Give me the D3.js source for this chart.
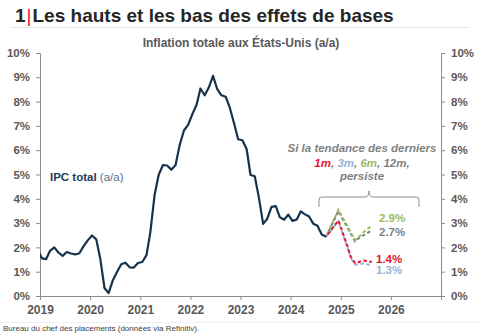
<!DOCTYPE html>
<html><head><meta charset="utf-8">
<script src="https://cdn.jsdelivr.net/npm/d3@7"></script>
<style>body{margin:0;background:#fff}svg{display:block;font-family:"Liberation Sans",Arial,sans-serif}</style>
</head><body><svg id="c" width="480" height="336"></svg>
<script>
// ---- data ----
const cpiStart = [2018, 11]; // Dec 2018 (month index 0-based)
const cpiValues = [1.91,
 1.55,1.52,1.86,2.00,1.79,1.65,1.81,1.75,1.71,1.76,2.05,2.29,
 2.49,2.33,1.54,0.33,0.12,0.65,0.99,1.31,1.37,1.18,1.17,1.36,
 1.40,1.68,2.62,4.16,4.99,5.39,5.37,5.20,5.39,6.22,6.81,7.04,
 7.48,7.87,8.54,8.26,8.58,9.06,8.52,8.26,8.20,7.75,7.11,6.45,
 6.41,6.04,4.98,4.93,4.05,2.97,3.18,3.67,3.70,3.24,3.14,3.35,
 3.09,3.15,3.48,3.36,3.27,2.97,2.89,2.53,2.44];
const projStart = [2024, 8]; // Sep 2024
const proj12m = [2.44,2.78,3.15,3.50,3.15,2.85,2.55,2.25,2.40,2.50,2.60,2.70];
const proj6m  = [2.44,2.80,3.20,3.55,3.22,2.92,2.60,2.30,2.45,2.62,2.76,2.90];
const proj3m  = [2.44,2.65,2.88,3.08,2.55,2.05,1.55,1.30,1.30,1.34,1.30,1.30];
const proj1m  = [2.44,2.66,2.90,3.10,2.60,2.10,1.60,1.35,1.40,1.46,1.44,1.40];
const endLabels = ["2.9%","2.7%","1.4%","1.3%"];
const yTicks = [0,1,2,3,4,5,6,7,8,9,10];
const xYears = [2019,2020,2021,2022,2023,2024,2025,2026];

const colors = {main:"#17324d", m1:"#e8112d", m3:"#95b3d7", m6:"#9bbb59", m12:"#7f7f7f", axis:"#8c8c8c", tick:"#595959"};

const svg = d3.select("#c");
const x = d3.scaleTime().domain([new Date(2019,0,1), new Date(2027,0,1)]).range([40,441]);
const y = d3.scaleLinear().domain([0,10]).range([296,53]);
const toDate = (s,i) => new Date(s[0], s[1]+i, 15);

// title
const t = svg.append("text").attr("x",15).attr("y",22).attr("font-weight","bold").attr("font-size",19).attr("fill","#262626");
t.append("tspan").text("1");
t.append("tspan").attr("fill","#e8112d").attr("font-weight","normal").attr("dx",1).text("|");
t.append("tspan").attr("dx",1).text("Les hauts et les bas des effets de bases");
svg.append("line").attr("x1",10).attr("x2",470).attr("y1",27.5).attr("y2",27.5).attr("stroke","#e6e6e6");
svg.append("text").attr("x",241).attr("y",47).attr("text-anchor","middle").attr("font-weight","bold").attr("font-size",12).attr("fill","#595959").text("Inflation totale aux États-Unis (a/a)");

// axes
const yl = svg.append("g").attr("transform","translate(40,0)").call(d3.axisLeft(y).tickValues(yTicks).tickSize(4).tickPadding(6).tickFormat(d=>d+"%"));
const yr = svg.append("g").attr("transform","translate(441,0)").call(d3.axisRight(y).tickValues(yTicks).tickSize(4).tickPadding(6).tickFormat(d=>d+"%"));
const xa = svg.append("g").attr("transform","translate(0,296)").call(d3.axisBottom(x).tickValues(xYears.map(v=>new Date(v,0,1)).concat([new Date(2027,0,1)])).tickSize(4).tickPadding(5).tickFormat(d=>xYears.includes(d.getFullYear())?d.getFullYear():""));
[yl,yr,xa].forEach(g=>{
  g.select(".domain").attr("stroke",colors.axis);
  g.selectAll(".tick line").attr("stroke",colors.axis);
  g.selectAll("text").attr("fill",colors.tick).attr("font-weight","bold").attr("font-size",11.5).attr("font-family","Liberation Sans, Arial, sans-serif");
});
xa.selectAll("text").attr("font-size",12);

// clip
svg.append("clipPath").attr("id","clip").append("rect").attr("x",40).attr("y",40).attr("width",401).attr("height",260);

const line = d3.line().x(d=>x(d[0])).y(d=>y(d[1]));
const mk = (s,arr) => arr.map((v,i)=>[toDate(s,i),v]);

const proj = [[proj12m,colors.m12,0],[proj6m,colors.m6,3],[proj3m,colors.m3,0],[proj1m,colors.m1,3]];
proj.forEach(([arr,c,off])=>{
  svg.append("path").attr("d",line(mk(projStart,arr))).attr("fill","none").attr("stroke",c).attr("stroke-width",2).attr("stroke-dasharray","3.5,2.5").attr("stroke-dashoffset",off);
});
svg.append("path").attr("clip-path","url(#clip)").attr("d",line(mk(cpiStart,cpiValues))).attr("fill","none").attr("stroke",colors.main).attr("stroke-width",2.2).attr("stroke-linejoin","round");

// end labels
const lblColors = [colors.m6,colors.m12,colors.m1,colors.m3];
const lblY = [218,232,259,270];
endLabels.forEach((l,i)=>{
  svg.append("text").attr("x",i<2?379:376).attr("y",lblY[i]).attr("dy","0.35em").attr("font-weight","bold").attr("font-size",11.5).attr("fill",lblColors[i]).text(l);
});

// IPC label
const ipc = svg.append("text").attr("x",50).attr("y",181).attr("font-size",11.5).attr("fill","#1f3a54");
ipc.append("tspan").attr("font-weight","bold").text("IPC total ");
ipc.append("tspan").attr("fill","#5a6f86").text("(a/a)");

// annotation
const ann = svg.append("g").attr("font-style","italic").attr("font-weight","bold").attr("font-size",11.5).attr("fill","#7f7f7f").attr("text-anchor","middle");
ann.append("text").attr("x",362).attr("y",152).text("Si la tendance des derniers");
const a2 = ann.append("text").attr("x",362).attr("y",167);
[["1m",colors.m1],[", ",null],["3m",colors.m3],[", ",null],["6m",colors.m6],[", ",null],["12m,",colors.m12]].forEach(([s,c])=>{const ts=a2.append("tspan").text(s); if(c) ts.attr("fill",c);});
ann.append("text").attr("x",362).attr("y",180).text("persiste");
// bracket
const bx0=319,bx1=419,bm=369,by=197;
svg.append("path").attr("d",`M${bx0},${by+10}V${by+3}Q${bx0},${by} ${bx0+3},${by}H${bm-4}Q${bm},${by} ${bm},${by-6}Q${bm},${by} ${bm+4},${by}H${bx1-3}Q${bx1},${by} ${bx1},${by+3}V${by+10}`).attr("fill","none").attr("stroke","#8c8c8c").attr("stroke-width",1);

// footer
svg.append("line").attr("x1",0).attr("x2",480).attr("y1",322.5).attr("y2",322.5).attr("stroke","#f0f0f0");
svg.append("text").attr("x",3).attr("y",331).attr("font-size",8).attr("fill","#404040").attr("font-family","Liberation Sans Narrow, Arial Narrow, Liberation Sans, sans-serif").text("Bureau du chef des placements (données via Refinitiv).");
</script></body></html>
